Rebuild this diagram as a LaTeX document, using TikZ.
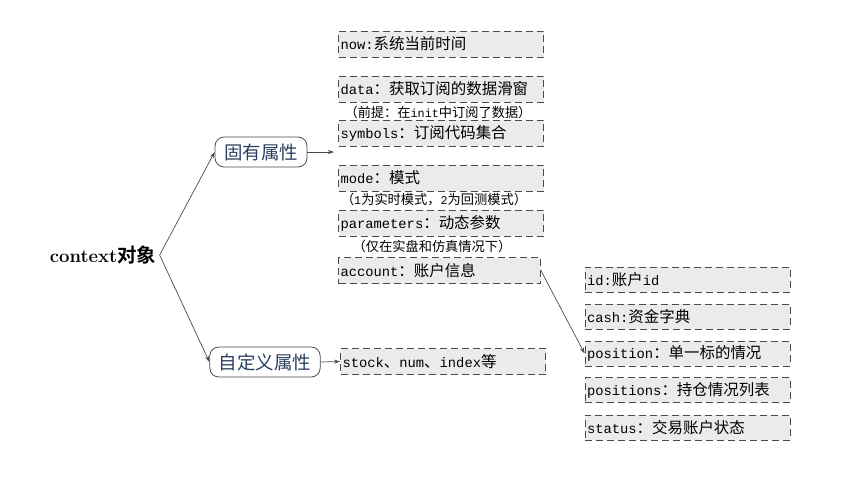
\documentclass[tikz,border=0pt]{standalone}
\usepackage{fontspec}
\setmonofont{Liberation Mono}
\newfontfamily\cjk[Scale=1.12]{Noto Sans CJK SC}
\newfontfamily\cjkbold[Scale=1.05,BoldFont={Noto Sans CJK SC Bold}]{Noto Sans CJK SC}
\usetikzlibrary{arrows.meta}
\definecolor{boxfill}{HTML}{EBEBEB}
\definecolor{boxline}{HTML}{4A4A4A}
\definecolor{grouptext}{HTML}{2A3F5F}
\newcommand{\m}[1]{{\ttfamily #1}}
\newcommand{\z}[1]{{\cjk #1}}

\begin{document}
\begin{tikzpicture}[x=1pt,y=-1pt,
  attrbox/.style={draw=boxline,fill=boxfill,dash pattern=on 7pt off 4pt,line width=0.8pt,
    minimum height=26pt,inner xsep=2pt,inner ysep=0pt,text width=201pt,align=left,
    font=\fontsize{13.8}{15}\selectfont},
  notetext/.style={inner sep=0pt,font=\fontsize{11.8}{13}\selectfont},
  groupbox/.style={draw=boxline,rounded corners=9pt,line width=0.8pt,minimum height=30pt,
    inner xsep=9pt,text=grouptext,font=\cjk\fontsize{16.5}{18}\selectfont},
  link/.style={draw=boxline,line width=0.7pt,-{Stealth[length=6pt,width=4pt]}}]
\useasboundingbox (0,0) rectangle (855,499);
% Root
\node (ctx) at (103,255) {\fontsize{18.5}{20}\selectfont\bfseries context{\cjkbold\bfseries 对象}};
% Two groups
\node[groupbox] (gy) at (261,152) {固有属性};
\node[groupbox] (zdy) at (265,362) {自定义属性};
% Built-in attributes
\node[attrbox] (now) at (441,44) {\m{now:}\z{系统当前时间}};
\node[attrbox] (data) at (441,89) {\m{data}\z{：获取订阅的数据滑窗}};
\node[notetext] (datanote) at (438,112) {\z{（前提：在}\m{init}\z{中订阅了数据）}};
\node[attrbox] (symbols) at (441,133) {\m{symbols}\z{：订阅代码集合}};
\node[attrbox] (mode) at (441,178) {\m{mode}\z{：模式}};
\node[notetext] (modenote) at (434,200) {\z{（}\m{1}\z{为实时模式，}\m{2}\z{为回测模式）}};
\node[attrbox] (params) at (441,223) {\m{parameters}\z{：动态参数}};
\node[notetext] (paramsnote) at (432,246) {\z{（仅在实盘和仿真情况下）}};
\node[attrbox,text width=198pt] (account) at (439.5,270.5) {\m{account}\z{：账户信息}};
% Custom attributes
\node[attrbox] (stock) at (443,361.5) {\m{stock}\z{、}\m{num}\z{、}\m{index}\z{等}};
% Account fields
\node[attrbox,minimum height=25pt] (id) at (687.5,279.5) {\m{id:}\z{账户}\m{id}};
\node[attrbox,minimum height=25pt] (cash) at (687.5,316.5) {\m{cash:}\z{资金字典}};
\node[attrbox,minimum height=25pt] (position) at (687.5,353.5) {\m{position}\z{：单一标的情况}};
\node[attrbox,minimum height=25pt] (positions) at (687.5,390) {\m{positions}\z{：持仓情况列表}};
\node[attrbox,minimum height=25pt] (status) at (687.5,427.5) {\m{status}\z{：交易账户状态}};
% Connectors
\coordinate (gyend) at (334,152);
\draw[link] (ctx.east) -- (gy.west);
\draw[link] (ctx.east) -- (zdy.west);
\draw[link] (gy.east) -- (gyend);
\draw[link] (zdy.east) -- (stock.west);
\draw[link] (account.east) -- (position.west);
\end{tikzpicture}
\end{document}
